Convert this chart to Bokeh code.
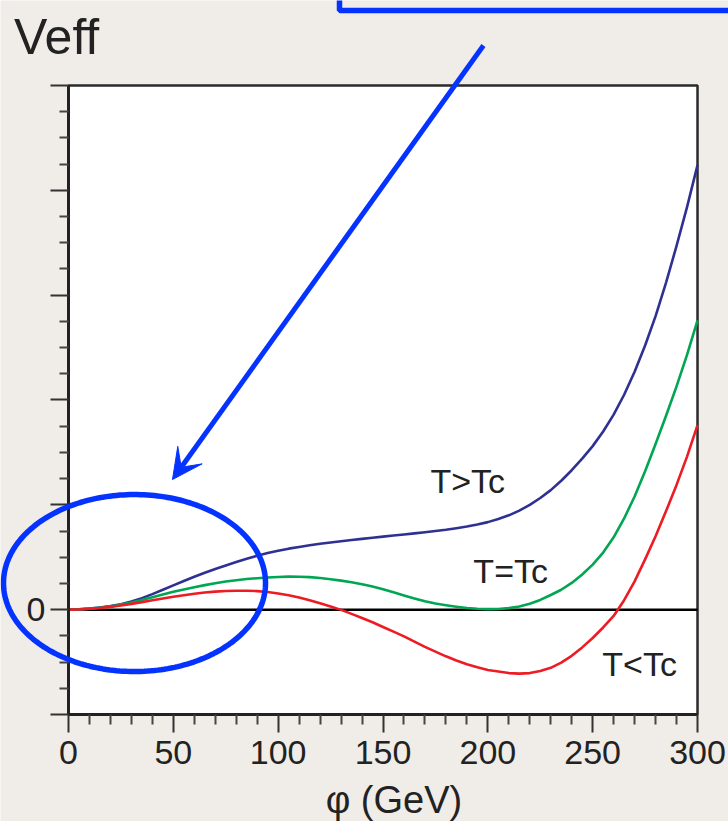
from bokeh.plotting import figure
from bokeh.models import Range1d, FixedTicker, Label, PolyAnnotation, BoxAnnotation, Arrow, VeeHead
from bokeh.embed import file_html
from bokeh.resources import INLINE
import numpy as np

# ---- data ----
phi = [0, 5, 10, 15, 20, 25, 30, 35, 40, 45, 50, 55, 60, 65, 70, 75, 80, 85, 90, 95,
       100, 105, 110, 115, 120, 125, 130, 135, 140, 145, 150, 155, 160, 165, 170, 175,
       180, 185, 190, 195, 200, 205, 210, 215, 220, 225, 230, 235, 240, 245, 250, 255,
       260, 265, 270, 275, 280, 285, 290, 295, 300]
v_above = [0.0, 0.003, 0.01, 0.021, 0.034, 0.052, 0.078, 0.11, 0.148, 0.19, 0.232,
           0.274, 0.314, 0.352, 0.388, 0.422, 0.455, 0.486, 0.515, 0.54, 0.562, 0.582,
           0.598, 0.614, 0.628, 0.64, 0.652, 0.664, 0.675, 0.686, 0.697, 0.707, 0.717,
           0.728, 0.738, 0.75, 0.762, 0.777, 0.793, 0.812, 0.835, 0.865, 0.90, 0.945,
           1.00, 1.065, 1.14, 1.23, 1.33, 1.44, 1.56, 1.70, 1.86, 2.05, 2.27, 2.52,
           2.80, 3.12, 3.47, 3.84, 4.24]
v_crit = [0.0, 0.003, 0.01, 0.019, 0.031, 0.048, 0.068, 0.092, 0.118, 0.145, 0.17,
          0.193, 0.214, 0.234, 0.252, 0.268, 0.281, 0.292, 0.30, 0.307, 0.312, 0.315,
          0.314, 0.31, 0.302, 0.29, 0.277, 0.262, 0.243, 0.22, 0.195, 0.165, 0.135,
          0.107, 0.08, 0.058, 0.042, 0.028, 0.016, 0.008, 0.005, 0.007, 0.015, 0.03,
          0.057, 0.093, 0.14, 0.19, 0.255, 0.335, 0.43, 0.545, 0.69, 0.87, 1.08, 1.32,
          1.58, 1.85, 2.13, 2.43, 2.76]
v_below = [0.0, 0.002, 0.008, 0.016, 0.027, 0.04, 0.055, 0.072, 0.09, 0.107, 0.123,
           0.138, 0.151, 0.163, 0.172, 0.178, 0.181, 0.181, 0.177, 0.168, 0.155, 0.137,
           0.116, 0.09, 0.061, 0.031, -0.002, -0.04, -0.08, -0.12, -0.165, -0.21, -0.255,
           -0.305, -0.355, -0.40, -0.445, -0.485, -0.52, -0.55, -0.575, -0.59, -0.605,
           -0.61, -0.605, -0.585, -0.555, -0.505, -0.44, -0.36, -0.27, -0.17, -0.06,
           0.09, 0.27, 0.48, 0.70, 0.94, 1.19, 1.46, 1.76]

x_ticks = [0, 50, 100, 150, 200, 250, 300]
x_minor = [v for v in range(0, 301, 10) if v % 50 != 0]
y_ticks = [-1, 0, 1, 2, 3, 4, 5]
y_minor = [v / 4 for v in range(-4, 21) if v % 4 != 0]
y_tick_labels = {-1: "", 0: "0", 1: "", 2: "", 3: "", 4: "", 5: ""}

curve_names = ["T>Tc", "T=Tc", "T<Tc"]
y_title = "Veff"
x_title = "φ (GeV)"

# ---- layout / styles ----
W, H = 728, 821
X_LO, X_HI = -32.43, 314.78      # canvas edges in data units (plot box 0..300)
Y_LO, Y_HI = -2.0207, 5.8108     # canvas edges in data units (plot box -1..5)
BG = "#f0ece7"
TXT = "#222222"
FONT = "Liberation Sans"
ANN = "#0433ff"
colors = ["#2e3192", "#00a651", "#ed1c24"]
label_pos = [(172.6, 1.23), (193.1, 0.372), (254.6, -0.514)]

p = figure(width=W, height=H, output_backend="svg", toolbar_location=None,
           x_range=Range1d(X_LO, X_HI), y_range=Range1d(Y_LO, Y_HI), min_border=0)
p.background_fill_color = BG
p.border_fill_color = BG
p.outline_line_color = None
p.xgrid.visible = False
p.ygrid.visible = False

# white plot box with frame
p.add_layout(BoxAnnotation(left=x_ticks[0], right=x_ticks[-1], bottom=y_ticks[0], top=y_ticks[-1],
                           fill_color="white", fill_alpha=1, line_color="#2a2a2a",
                           line_alpha=1, line_width=2.5, level="underlay"))

for ax in (p.xaxis[0], p.yaxis[0]):
    ax.axis_line_color = "#222222"
    ax.axis_line_width = 3
    ax.major_tick_in = 0
    ax.minor_tick_in = 0
    ax.major_tick_out = 18
    ax.major_tick_line_color = "#333333"
    ax.minor_tick_line_color = "#444444"
    ax.major_tick_line_width = 2
    ax.minor_tick_line_width = 2
    ax.major_label_text_font = FONT
    ax.major_label_text_font_size = "34px"
    ax.major_label_text_color = TXT

p.xaxis.fixed_location = y_ticks[0]
p.xaxis.bounds = (x_ticks[0], x_ticks[-1])
p.xaxis.ticker = FixedTicker(ticks=x_ticks, minor_ticks=x_minor)
p.xaxis.minor_tick_out = 10
p.xaxis.major_label_standoff = 9
p.yaxis.fixed_location = x_ticks[0]
p.yaxis.bounds = (y_ticks[0], y_ticks[-1])
p.yaxis.ticker = FixedTicker(ticks=y_ticks, minor_ticks=y_minor)
p.yaxis.minor_tick_out = 9
p.yaxis.major_label_standoff = 5
p.yaxis.major_label_overrides = y_tick_labels

# zero line across the plot box
p.line([x_ticks[0], x_ticks[-1]], [0, 0], line_color="black", line_width=2.5)

for vals, c in zip([v_above, v_crit, v_below], colors):
    p.line(phi, vals, line_color=c, line_width=2.6, line_join="round")

for name, (lx, ly) in zip(curve_names, label_pos):
    p.add_layout(Label(x=lx, y=ly, text=name, text_font=FONT, text_font_size="34px",
                       text_color=TXT, text_baseline="alphabetic"))

p.add_layout(Label(x=-26.0, y=5.46, text=y_title, text_font=FONT, text_font_size="50px",
                   text_color=TXT, text_baseline="alphabetic"))
p.add_layout(Label(x=155.2, y=-1.82, text=x_title, text_font=FONT, text_font_size="38px",
                   text_color=TXT, text_baseline="alphabetic", text_align="center"))

# blue highlight annotations
cx, cy, ea, eb = 31.48, 0.254, 62.48, 0.844
t = np.linspace(0, 2 * np.pi, 240)
p.add_layout(PolyAnnotation(xs=list(cx + ea * np.cos(t)), ys=list(cy + eb * np.sin(t)),
                            fill_alpha=0, line_color=ANN, line_alpha=1, line_width=5.5))
p.add_layout(PolyAnnotation(xs=[129.25, 129.25, 330, 330], ys=[6.5, 5.715, 5.715, 6.5],
                            fill_alpha=0, line_color=ANN, line_alpha=1, line_width=5.5))
p.add_layout(Arrow(x_start=197.9, y_start=5.3815, x_end=49.6, y_end=1.2415,
                   line_color=ANN, line_width=5,
                   end=VeeHead(size=30, fill_color=ANN, line_color=ANN, line_width=1)))

open("out.html", "w").write(file_html(p, INLINE))
